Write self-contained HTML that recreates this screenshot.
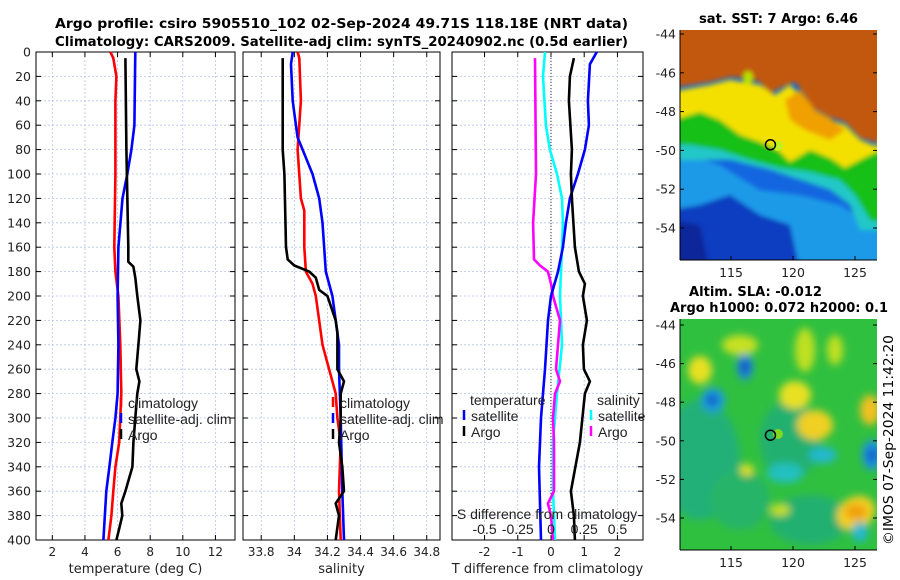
<!DOCTYPE html>
<html><head><meta charset="utf-8"><style>
body{margin:0;background:#fff;}
svg{display:block;font-family:"DejaVu Sans","Liberation Sans",sans-serif;}
</style></head><body>
<svg id="fig" width="900" height="580" viewBox="0 0 900 580" xmlns="http://www.w3.org/2000/svg">
<defs>
<filter id="blur1" x="-10%" y="-10%" width="120%" height="120%"><feGaussianBlur stdDeviation="2.5"/></filter>
<filter id="blur2" x="-20%" y="-20%" width="140%" height="140%"><feGaussianBlur stdDeviation="4"/></filter>
<clipPath id="c1"><rect x="680" y="30" width="197" height="230"/></clipPath>
<clipPath id="c2"><rect x="680" y="319" width="197" height="231"/></clipPath>
</defs>
<text x="55" y="28" textLength="573" lengthAdjust="spacingAndGlyphs" font-size="13" font-weight="bold">Argo profile: csiro 5905510_102 02-Sep-2024 49.71S 118.18E (NRT data)</text>
<text x="55" y="46" textLength="573" lengthAdjust="spacingAndGlyphs" font-size="13" font-weight="bold">Climatology: CARS2009. Satellite-adj clim: synTS_20240902.nc (0.5d earlier)</text>
<g id="charts"></g>
<g id="maps"></g>
<text transform="translate(893,545) rotate(-90)" font-size="13" textLength="210" lengthAdjust="spacingAndGlyphs">©IMOS 07-Sep-2024 11:42:20</text>
</svg>
<script>
// ---- data ----
const depthTicks=[0,20,40,60,80,100,120,140,160,180,200,220,240,260,280,300,320,340,360,380,400];
const tTicks=[2,4,6,8,10,12];
const sTicks=[33.8,34,34.2,34.4,34.6,34.8];
const dTTicks=[-2,-1,0,1,2];
const dSTickVals=[-0.5,-0.25,0,0.25,0.5];
const dSTickLabels=["-0.5","-0.25","0","0.25","0.5"];
const climTdep=[0,5,20,40,100,160,180,200,240,280,320,340,360,380,400];
const climT=[5.56,5.74,5.93,5.87,5.87,5.8,5.87,6.05,6.17,6.23,6.1,5.87,5.74,5.62,5.44];
const satTdep=[0,60,80,100,120,160,200,240,280,300,320,340,360,400];
const satT=[7.09,7.03,6.85,6.6,6.3,6.05,6.0,6.05,6.0,5.87,5.68,5.5,5.31,5.13];
const argoTdep=[5,80,160,172,176,185,200,220,240,260,270,280,300,320,340,360,370,380,390,400];
const argoT=[6.48,6.54,6.66,6.66,6.97,7.09,7.21,7.4,7.28,7.15,7.34,7.21,7.09,6.97,6.91,6.48,6.23,6.29,6.11,5.93];
const climSdep=[0,5,40,80,120,130,160,180,190,200,240,280,300,320,360,400];
const climS=[34.02,34.03,34.04,34.02,34.04,34.06,34.06,34.07,34.11,34.13,34.17,34.25,34.26,34.28,34.27,34.28];
const satSdep=[0,10,40,50,70,80,100,120,140,180,200,240,260,300,360,400];
const satS=[33.99,33.98,33.99,34.0,34.02,34.05,34.11,34.15,34.17,34.19,34.23,34.27,34.27,34.28,34.29,34.3];
const argoSdep=[5,80,100,160,170,175,180,185,195,200,220,230,260,270,280,300,320,340,360,370,380,400];
const argoS=[33.93,33.93,33.94,33.95,33.96,34.0,34.09,34.13,34.15,34.2,34.25,34.26,34.26,34.3,34.28,34.28,34.27,34.29,34.3,34.25,34.27,34.25];
const dTsatDep=[0,10,40,60,80,100,120,140,160,180,200,220,260,300,340,400];
const dTsat=[1.38,1.17,1.11,1.14,1.02,0.81,0.57,0.45,0.36,0.21,0,-0.09,-0.18,-0.3,-0.36,-0.3];
const dTargoDep=[5,20,40,80,100,120,160,180,190,200,220,240,260,270,280,320,360,380,400];
const dTargo=[0.69,0.57,0.54,0.63,0.6,0.63,0.72,0.84,1.02,0.96,1.08,0.96,0.99,1.17,1.02,0.87,0.6,0.69,0.72];
const dSsatDep=[0,20,60,80,100,120,140,160,180,200,240,280,320,360,400];
const dSsat=[-0.045,-0.06,-0.038,-0.008,0.045,0.083,0.09,0.083,0.075,0.068,0.083,0.045,0.015,0.015,0.03];
const dSargoDep=[5,100,140,170,175,180,190,200,220,260,270,280,300,320,360,370,380,400];
const dSargo=[-0.12,-0.113,-0.135,-0.128,-0.083,-0.023,0,0.015,0.068,0.038,0.068,0.03,0.015,0.023,0.023,-0.023,0,0.015];

const NS="http://www.w3.org/2000/svg";
function mk(tag,attrs,parent){const e=document.createElementNS(NS,tag);for(const k in attrs)e.setAttribute(k,attrs[k]);parent.appendChild(e);return e;}
const Y0=52,Y1=540;
const yS=d=>Y0+(Y1-Y0)*d/400;
const charts=document.getElementById('charts');
const LEG='"Liberation Sans Narrow","Liberation Sans",sans-serif';

function panel(name,x0,x1,xmin,xmax,ticks,tickLabels,showY,xlabel){
  const g=mk('g',{},charts);
  
  
  const xs=v=>x0+(x1-x0)*(v-xmin)/(xmax-xmin);
  depthTicks.forEach(d=>{
    if(d>0&&d<400)mk('line',{x1:x0,x2:x1,y1:yS(d),y2:yS(d),stroke:'#b8c4e8','stroke-width':0.8,'stroke-dasharray':'2,2'},g);
    mk('line',{x1:x0,x2:x0+5,y1:yS(d),y2:yS(d),stroke:'#000'},g);
    mk('line',{x1:x1-5,x2:x1,y1:yS(d),y2:yS(d),stroke:'#000'},g);
    if(showY){const t=mk('text',{x:x0-5,y:yS(d)+4.5,'text-anchor':'end','font-size':12.5,fill:'#222'},g);t.textContent=d;
      
      }
  });
  ticks.forEach((v,i)=>{
    const x=xs(v);
    mk('line',{x1:x,x2:x,y1:Y0,y2:Y1,stroke:'#b8c4e8','stroke-width':0.8,'stroke-dasharray':'2,2'},g);
    mk('line',{x1:x,x2:x,y1:Y1-5,y2:Y1,stroke:'#000'},g);
    mk('line',{x1:x,x2:x,y1:Y0,y2:Y0+5,stroke:'#000'},g);
    const t=mk('text',{x:x,y:556,'text-anchor':'middle','font-size':12,fill:'#222'},g);t.textContent=tickLabels[i];
    
    
  });
  mk('rect',{x:x0,y:Y0,width:x1-x0,height:Y1-Y0,fill:'none',stroke:'#000','stroke-width':1},g);
  const xl=mk('text',{x:(x0+x1)/2,y:573,'text-anchor':'middle','font-size':13,fill:'#222'},g);xl.textContent=xlabel;
  
  
  return {g,xs};
}
function line(p,deps,vals,color,name,sx){
  const pts=deps.map((d,i)=>p.xs(vals[i]*(sx||1)).toFixed(1)+','+yS(d).toFixed(1)).join(' ');
  const e=mk('polyline',{points:pts,fill:'none',stroke:color,'stroke-width':2.6,'stroke-linejoin':'round'},p.g);
  
  
}
function legend(p,x,y,items){
  items.forEach((it,i)=>{
    mk('line',{x1:x,x2:x,y1:y+i*16-11,y2:y+i*16-1,stroke:it[1],'stroke-width':2.5},p.g);
    const t=mk('text',{x:x+7,y:y+i*16,'font-size':14,fill:'#222','font-family':LEG},p.g);t.textContent=it[0];
    
    
  });
}
const p1=panel('temperature-panel',36,235,1,13.2,tTicks,tTicks.map(String),true,'temperature (deg C)');
line(p1,climTdep,climT,'#ff0000','climatology-temperature-line');
line(p1,satTdep,satT,'#0000ff','satellite-temperature-line');
line(p1,argoTdep,argoT,'#000','argo-temperature-line');
legend(p1,121,408,[['climatology','#f00'],['satellite-adj. clim','#00f'],['Argo','#000']]);

const p2=panel('salinity-panel',243,440,33.69,34.88,sTicks,sTicks.map(String),false,'salinity');
line(p2,climSdep,climS,'#ff0000','climatology-salinity-line');
line(p2,satSdep,satS,'#0000ff','satellite-salinity-line');
line(p2,argoSdep,argoS,'#000','argo-salinity-line');
legend(p2,333,408,[['climatology','#f00'],['satellite-adj. clim','#00f'],['Argo','#000']]);

const p3=panel('difference-panel',452,643,-2.98,2.77,dTTicks,dTTicks.map(String),false,'T difference from climatology');
mk('line',{x1:p3.xs(0),x2:p3.xs(0),y1:Y0,y2:Y1,stroke:'#333','stroke-width':1,'stroke-dasharray':'1,2'},p3.g);
line(p3,dSsatDep,dSsat,'#00ffff','satellite-salinity-diff-line',4);
line(p3,dSargoDep,dSargo,'#ff00ff','argo-salinity-diff-line',4);
line(p3,dTsatDep,dTsat,'#0000ff','satellite-temperature-diff-line');
line(p3,dTargoDep,dTargo,'#000','argo-temperature-diff-line');
{const t=mk('text',{x:470,y:405,'font-size':14,fill:'#222','font-family':LEG},p3.g);t.textContent='temperature';

const t2=mk('text',{x:597,y:405,'font-size':14,fill:'#222','font-family':LEG},p3.g);t2.textContent='salinity';
}
legend(p3,464,421,[['satellite','#00f'],['Argo','#000']]);
legend(p3,591,421,[['satellite','#0ff'],['Argo','#f0f']]);
{const t=mk('text',{x:547,y:519,'text-anchor':'middle','font-size':14,fill:'#222','font-family':LEG},p3.g);t.textContent='S difference from climatology';

dSTickVals.forEach((v,i)=>{const l=mk('text',{x:p3.xs(v*4),y:534,'text-anchor':'middle','font-size':14,fill:'#222','font-family':LEG},p3.g);l.textContent=dSTickLabels[i];
});}

// ---- maps ----
const maps=document.getElementById('maps');
const lonTicks=[115,120,125];
const latTicks=[-44,-46,-48,-50,-52,-54];
function mapAxes(name,x0,y0,y1,latTop,latY,title,titleYs,clip,content){
  const g=mk('g',{},maps);
  
  
  const lx=lon=>731+(lon-115)*12.4;
  const ly=lat=>latTop+(-44-lat)*latY;
  const cg=mk('g',{'clip-path':'url(#'+clip+')'},g);
  content(cg,lx,ly);
  mk('circle',{cx:lx(118.18),cy:ly(-49.71),r:5,fill:'none',stroke:'#000','stroke-width':1.5},g);
  mk('line',{x1:680,x2:680,y1:y0,y2:y1,stroke:'#000'},g);
  mk('line',{x1:680,x2:877,y1:y1,y2:y1,stroke:'#000'},g);
  latTicks.forEach(l=>{const y=ly(l);
    mk('line',{x1:680,x2:684,y1:y,y2:y,stroke:'#000'},g);
    mk('line',{x1:873,x2:877,y1:y,y2:y,stroke:'#000'},g);
    const t=mk('text',{x:676,y:y+4.5,'text-anchor':'end','font-size':12.5,fill:'#222'},g);t.textContent=l;
    });
  lonTicks.forEach(l=>{const x=lx(l);
    mk('line',{x1:x,x2:x,y1:y1-4,y2:y1,stroke:'#000'},g);
    const t=mk('text',{x:x,y:y1+17,'text-anchor':'middle','font-size':12.5,fill:'#222'},g);t.textContent=l;
    });
  title.forEach((s,i)=>{const t=mk('text',{x:s[1],y:titleYs[i],'font-size':13,'font-weight':'bold',textLength:s[2],lengthAdjust:'spacingAndGlyphs'},g);t.textContent=s[0];
    });
}
mapAxes('sst-map',680,30,260,34,19.4,[['sat. SST: 7 Argo: 6.46',699,159]],[23],'c1',(g)=>{
  mk('rect',{x:680,y:30,width:197,height:230,fill:'#1466e0'},g);
  const f=mk('g',{filter:'url(#blur1)'},g);
  mk('polygon',{points:'670,150 720,165 760,190 800,195 840,205 880,230 890,270 670,270',fill:'#1a9ae8'},f);
  mk('polygon',{points:'670,210 700,205 730,195 760,215 790,225 800,270 670,270',fill:'#0a3ec0'},f);
  mk('polygon',{points:'670,220 700,225 710,270 670,270',fill:'#08289a'},f);
  mk('polygon',{points:'670,120 700,125 740,140 790,155 830,160 860,150 890,140 890,230 860,230 850,205 830,190 800,180 770,170 730,160 700,160 670,160',fill:'#20c8c8'},f);
  mk('polygon',{points:'670,110 700,105 730,115 760,135 790,150 830,150 860,150 890,140 890,225 870,220 855,195 840,180 810,172 780,168 750,160 720,150 690,145 670,145',fill:'#18c018'},f);
  mk('polygon',{points:'670,92 710,85 730,80 760,85 775,95 790,85 800,95 812,110 830,120 845,125 860,140 880,148 880,150 860,160 845,168 830,158 810,150 790,162 778,150 760,142 740,135 720,120 700,112 680,118 670,118',fill:'#f4e000'},f);
  mk('polygon',{points:'670,25 890,25 890,146 860,138 845,122 830,117 812,107 805,95 795,82 780,88 770,93 760,82 745,78 730,77 710,82 670,88',fill:'#c25808'},f);
  mk('polygon',{points:'785,100 800,90 815,110 830,118 845,130 830,140 805,130 790,120',fill:'#f0a000'},f);
  mk('ellipse',{cx:748,cy:78,rx:5,ry:7,fill:'#b8e000'},f);
  mk('circle',{cx:778,cy:146,r:5,fill:'#c0f020'},g);
});
mapAxes('sla-map',680,319,550,325,19.3,[['Altim. SLA: -0.012',689,133],['Argo h1000: 0.072 h2000: 0.1',670,218]],[296,312],'c2',(g)=>{
  mk('rect',{x:680,y:319,width:197,height:231,fill:'#30c040'},g);
  const f=mk('g',{filter:'url(#blur2)'},g);
  [[700,460,40,60,'#20b078'],[790,440,30,40,'#22b070'],[810,520,40,25,'#22b070'],[740,500,30,30,'#28b468']].forEach(b=>mk('ellipse',{cx:b[0],cy:b[1],rx:b[2],ry:b[3],fill:b[4]},f));
  [[700,370,12,14,'#e8e020'],[740,345,18,10,'#c8e020'],[795,395,16,14,'#e8e020'],[815,425,18,15,'#f0d020'],[805,350,10,22,'#c0e020'],[870,410,10,15,'#f0c020'],[835,350,8,15,'#c0e020'],[747,470,7,6,'#e0e020'],[780,510,10,6,'#c8e020']].forEach(b=>mk('ellipse',{cx:b[0],cy:b[1],rx:b[2],ry:b[3],fill:b[4]},f));
  mk('ellipse',{cx:856,cy:513,rx:20,ry:16,fill:'#f4d020',transform:'rotate(-30 856 513)'},f);
  mk('ellipse',{cx:856,cy:512,rx:11,ry:8,fill:'#f0a010'},f);
  [[745,367,8,13,'#1a88e0'],[713,400,12,12,'#1a9ae0'],[872,455,10,15,'#1a90e0'],[823,455,14,8,'#20b8d0'],[785,473,18,10,'#20c0c0'],[860,532,8,10,'#20b8d0']].forEach(b=>mk('ellipse',{cx:b[0],cy:b[1],rx:b[2],ry:b[3],fill:b[4]},f));
  [[745,367,4,6],[712,400,5,5],[872,455,4,6]].forEach(b=>mk('ellipse',{cx:b[0],cy:b[1],rx:b[2],ry:b[3],fill:'#0a40c0'},f));
  mk('circle',{cx:778,cy:434,r:5,fill:'#80d820'},g);
});
</script>
</body></html>
